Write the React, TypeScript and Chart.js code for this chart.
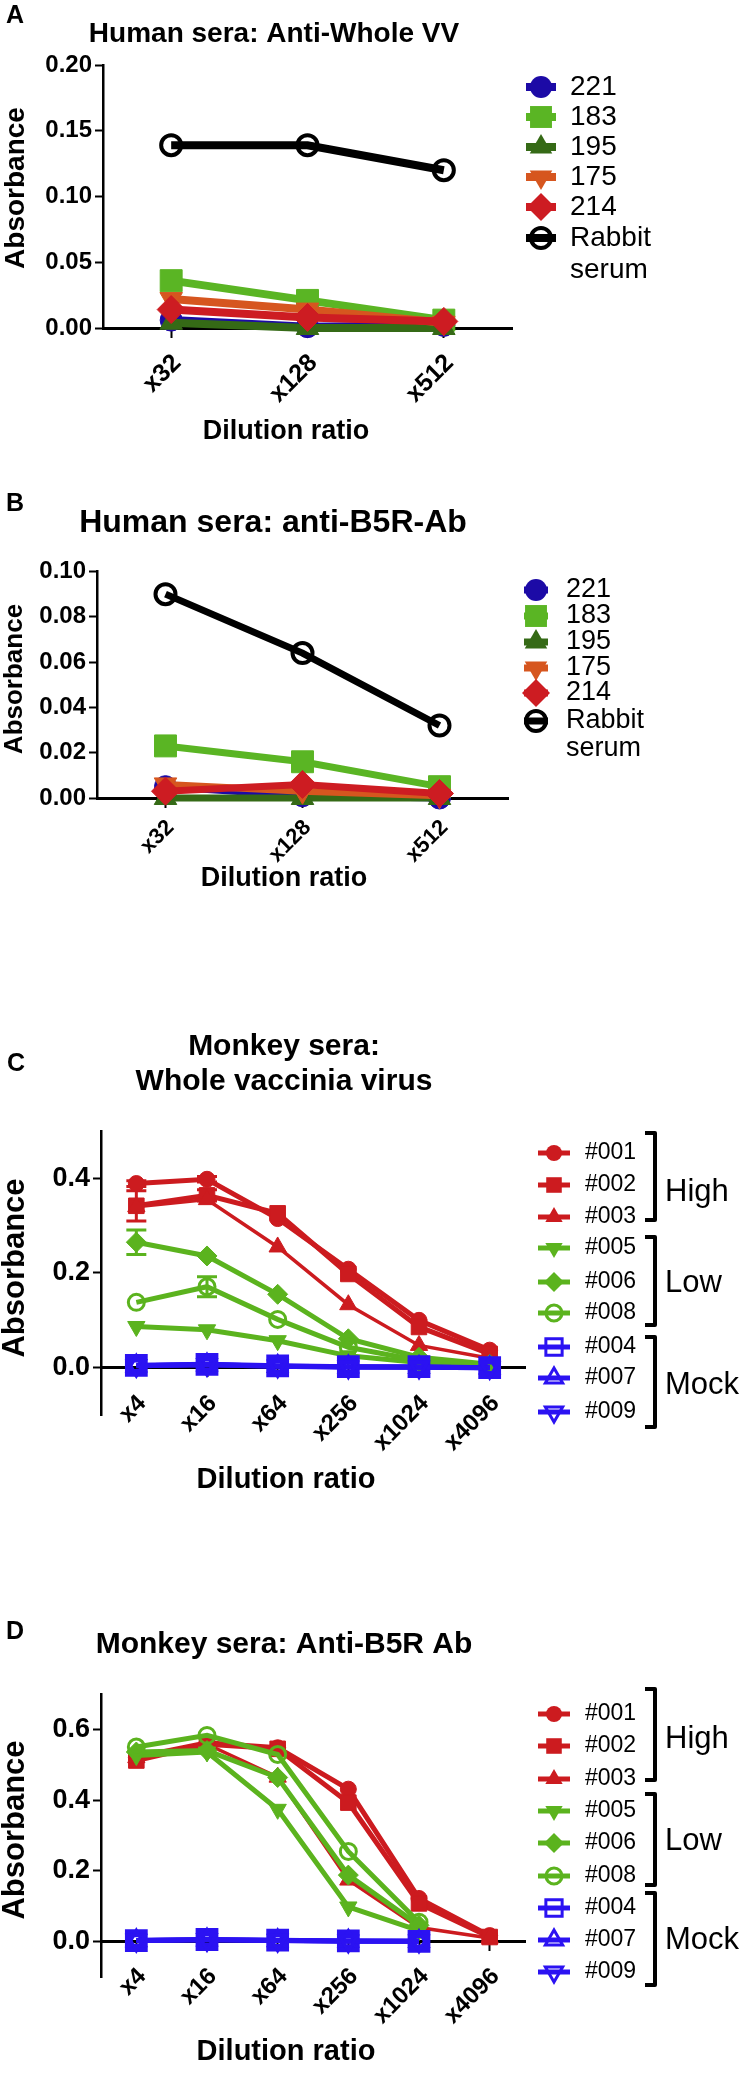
import React, { useEffect, useRef } from 'react';
import { Chart, registerables } from 'chart.js';
Chart.register(...registerables);

const FONT = "'Liberation Sans', Arial, Helvetica, sans-serif";

// ---------- DATA ----------
const humanCategories = ['x32', 'x128', 'x512'];
const humanSeriesNames = ['221', '183', '195', '175', '214', 'Rabbit serum'];

// Panel A: Human sera, anti-whole VV
const a221 = [0.006, 0.001, 0.002];
const a183 = [0.036, 0.021, 0.006];
const a195 = [0.004, 0.0, 0.0];
const a175 = [0.022, 0.014, 0.004];
const a214 = [0.014, 0.008, 0.005];
const aRabbit = [0.139, 0.139, 0.12];

// Panel B: Human sera, anti-B5R-Ab
const b221 = [0.005, 0.001, 0.0];
const b183 = [0.023, 0.016, 0.005];
const b195 = [0.0, 0.0, 0.0];
const b175 = [0.006, 0.003, 0.001];
const b214 = [0.003, 0.006, 0.002];
const bRabbit = [0.09, 0.064, 0.032];

const monkeyCategories = ['x4', 'x16', 'x64', 'x256', 'x1024', 'x4096'];
const monkeySeriesNames = ['#001', '#002', '#003', '#005', '#006', '#008', '#004', '#007', '#009'];

// Panel C: Monkey sera, whole vaccinia virus
const c001 = [0.389, 0.398, 0.315, 0.208, 0.1, 0.037];
const c002 = [0.342, 0.364, 0.326, 0.198, 0.086, 0.029];
const c003 = [0.34, 0.355, 0.255, 0.133, 0.047, 0.02];
const c005 = [0.087, 0.08, 0.057, 0.025, 0.011, 0.003];
const c006 = [0.265, 0.236, 0.155, 0.061, 0.022, 0.007];
const c008 = [0.138, 0.171, 0.102, 0.043, 0.015, 0.004];
const c004 = [0.005, 0.007, 0.004, 0.002, 0.002, 0.0];
const c007 = [0.004, 0.006, 0.003, 0.002, 0.001, 0.0];
const c009 = [0.004, 0.006, 0.003, 0.001, 0.001, 0.0];
const c001Err = [0.006, 0.006, 0, 0, 0, 0];
const c002Err = [0.032, 0.012, 0, 0, 0, 0];
const c006Err = [0.026, 0, 0, 0, 0, 0];
const c008Err = [0, 0.021, 0, 0, 0, 0];

// Panel D: Monkey sera, anti-B5R Ab
const d001 = [0.521, 0.562, 0.548, 0.431, 0.122, 0.017];
const d002 = [0.512, 0.558, 0.545, 0.393, 0.108, 0.013];
const d003 = [0.52, 0.558, 0.465, 0.174, 0.04, 0.01];
const d005 = [0.526, 0.536, 0.374, 0.098, 0.031, null];
const d006 = [0.536, 0.54, 0.464, 0.188, 0.046, null];
const d008 = [0.55, 0.583, 0.529, 0.255, 0.055, null];
const d004 = [0.003, 0.006, 0.004, 0.002, 0.001, null];
const d007 = [0.003, 0.005, 0.003, 0.002, 0.001, null];
const d009 = [0.003, 0.005, 0.003, 0.001, 0.001, null];

const groupNames = ['High', 'Low', 'Mock'];

// ---------- STYLES ----------
type St = { color: string; shape: string; r: number; rot?: number; open?: boolean; bw?: number; lw?: number };
const HUMAN_STYLE: St[] = [
  { color: '#1c0aa6', shape: 'circle', r: 11 },
  { color: '#5ab524', shape: 'rect', r: 15.5 },
  { color: '#356a16', shape: 'triangle', r: 13 },
  { color: '#d6561f', shape: 'triangle', rot: 180, r: 13 },
  { color: '#cd1c22', shape: 'rectRot', r: 14 },
  { color: '#000000', shape: 'circle', r: 10, open: true, bw: 4 },
];
const RED = '#cc1b1f';
const GREEN = '#5bb31e';
const BLUE = '#2b12f2';
const MONKEY_STYLE: St[] = [
  { color: RED, shape: 'circle', r: 8 },
  { color: RED, shape: 'rect', r: 11 },
  { color: RED, shape: 'triangle', r: 10, lw: 3.5 },
  { color: GREEN, shape: 'triangle', rot: 180, r: 10 },
  { color: GREEN, shape: 'rectRot', r: 10 },
  { color: GREEN, shape: 'circle', r: 8, open: true, bw: 3 },
  { color: BLUE, shape: 'rect', r: 11.5, open: true, bw: 6.5 },
  { color: BLUE, shape: 'triangle', r: 10, open: true, bw: 3.5 },
  { color: BLUE, shape: 'triangle', rot: 180, r: 10, open: true, bw: 3.5 },
];

function makeDatasets(names: string[], values: (number | null)[][], styles: St[], lw: number, errors?: (number[] | null)[]) {
  const n = names.length;
  return names.map((name, i) => {
    const s = styles[i];
    return {
      label: name,
      data: values[i],
      borderColor: s.color,
      backgroundColor: s.color,
      borderWidth: s.lw ?? lw,
      pointStyle: s.shape,
      pointRotation: s.rot ?? 0,
      pointRadius: s.r,
      pointHoverRadius: s.r,
      pointBackgroundColor: s.open ? 'rgba(0,0,0,0)' : s.color,
      pointBorderColor: s.color,
      pointBorderWidth: s.open ? s.bw : 1,
      tension: 0,
      clip: false as any,
      order: n - i,
      errors: errors ? errors[i] : null,
      _st: s,
    };
  });
}

function drawMarker(ctx: CanvasRenderingContext2D, s: St, x: number, y: number, legendBw?: number) {
  const r = s.r;
  ctx.beginPath();
  if (s.shape === 'circle') {
    ctx.arc(x, y, r, 0, Math.PI * 2);
  } else if (s.shape === 'rect') {
    const h = r * Math.SQRT1_2;
    ctx.rect(x - h, y - h, 2 * h, 2 * h);
  } else if (s.shape === 'rectRot') {
    ctx.moveTo(x - r, y);
    ctx.lineTo(x, y - r);
    ctx.lineTo(x + r, y);
    ctx.lineTo(x, y + r);
    ctx.closePath();
  } else if (s.shape === 'triangle') {
    let a = ((s.rot ?? 0) * Math.PI) / 180;
    ctx.moveTo(x + Math.sin(a) * r, y - Math.cos(a) * r);
    a += (2 * Math.PI) / 3;
    ctx.lineTo(x + Math.sin(a) * r, y - Math.cos(a) * r);
    a += (2 * Math.PI) / 3;
    ctx.lineTo(x + Math.sin(a) * r, y - Math.cos(a) * r);
    ctx.closePath();
  }
  if (s.open) {
    ctx.lineWidth = legendBw ?? s.bw ?? 2;
    ctx.strokeStyle = s.color;
    ctx.stroke();
  } else {
    ctx.fillStyle = s.color;
    ctx.fill();
  }
}

type Cfg = {
  top: number;
  height: number;
  area: { left: number; right: number; top: number; bottom: number };
  yMin: number;
  yMax: number;
  yTicks: number[];
  yDec: number;
  yTickSize: number;
  xTick: { size: number; dx: number; dy: number };
  categories: string[];
  datasets: any[];
  letter: { text: string; x: number; y: number };
  titles: { text: string; x: number; y: number; size: number }[];
  yTitle: { text: string; x: number; y: number; size: number };
  xTitle: { text: string; x: number; y: number; size: number };
  legend: { markerX: number; textX: number; rows: number[]; size: number; stub: number; lineWidth: number; lines: string[][]; lineGap: number; openBw?: number };
  brackets?: { x: number; hook: number; labelX: number; size: number; items: { y1: number; y2: number; label: string; ly: number }[] };
};

const errorBarPlugin = {
  id: 'errorBars',
  beforeDatasetsDraw(chart: any) {
    const ctx = chart.ctx;
    const xs = chart.scales.x;
    const ys = chart.scales.y;
    chart.data.datasets.forEach((ds: any) => {
      if (!ds.errors) return;
      ds.data.forEach((v: number | null, i: number) => {
        const e = ds.errors[i];
        if (v == null || !e) return;
        const x = xs.getPixelForValue(i);
        const y1 = ys.getPixelForValue(v + e);
        const y2 = ys.getPixelForValue(v - e);
        ctx.save();
        ctx.strokeStyle = ds.borderColor;
        ctx.lineWidth = 3;
        ctx.beginPath();
        ctx.moveTo(x, y1);
        ctx.lineTo(x, y2);
        ctx.moveTo(x - 10, y1);
        ctx.lineTo(x + 10, y1);
        ctx.moveTo(x - 10, y2);
        ctx.lineTo(x + 10, y2);
        ctx.stroke();
        ctx.restore();
      });
    });
  },
};

function decorPlugin(cfg: Cfg) {
  return {
    id: 'decor',
    afterDraw(chart: any) {
      const ctx: CanvasRenderingContext2D = chart.ctx;
      const xs = chart.scales.x;
      const ys = chart.scales.y;
      ctx.save();
      ctx.fillStyle = '#000';
      ctx.textAlign = 'center';
      ctx.textBaseline = 'middle';
      ctx.font = `bold 25px ${FONT}`;
      ctx.fillText(cfg.letter.text, cfg.letter.x, cfg.letter.y);
      cfg.titles.forEach((t) => {
        ctx.font = `bold ${t.size}px ${FONT}`;
        ctx.fillText(t.text, t.x, t.y);
      });
      ctx.font = `bold ${cfg.xTitle.size}px ${FONT}`;
      ctx.fillText(cfg.xTitle.text, cfg.xTitle.x, cfg.xTitle.y);
      ctx.save();
      ctx.translate(cfg.yTitle.x, cfg.yTitle.y);
      ctx.rotate(-Math.PI / 2);
      ctx.font = `bold ${cfg.yTitle.size}px ${FONT}`;
      ctx.fillText(cfg.yTitle.text, 0, 0);
      ctx.restore();

      // rotated category labels, anchored at each category's tick on the zero line
      const zeroY = ys.getPixelForValue(0);
      ctx.font = `bold ${cfg.xTick.size}px ${FONT}`;
      ctx.textAlign = 'right';
      ctx.textBaseline = 'middle';
      cfg.categories.forEach((lab, i) => {
        const px = xs.getPixelForValue(i);
        ctx.save();
        ctx.translate(px + cfg.xTick.dx, zeroY + cfg.xTick.dy);
        ctx.rotate(-Math.PI / 4);
        ctx.fillText(lab, 0, 0);
        ctx.restore();
      });

      // legend
      const L = cfg.legend;
      chart.data.datasets.forEach((ds: any, i: number) => {
        const y = L.rows[i];
        const s: St = ds._st;
        ctx.strokeStyle = s.color;
        ctx.lineWidth = L.lineWidth;
        ctx.beginPath();
        ctx.moveTo(L.markerX - L.stub, y);
        ctx.lineTo(L.markerX + L.stub, y);
        ctx.stroke();
        drawMarker(ctx, s, L.markerX, y, L.openBw);
        ctx.fillStyle = '#000';
        ctx.textAlign = 'left';
        ctx.textBaseline = 'middle';
        ctx.font = `${L.size}px ${FONT}`;
        L.lines[i].forEach((line, k) => ctx.fillText(line, L.textX, y + k * L.lineGap));
      });

      if (cfg.brackets) {
        const B = cfg.brackets;
        ctx.strokeStyle = '#000';
        ctx.lineWidth = 4;
        ctx.lineJoin = 'round';
        B.items.forEach((it) => {
          ctx.beginPath();
          ctx.moveTo(B.x - B.hook, it.y1);
          ctx.lineTo(B.x, it.y1);
          ctx.lineTo(B.x, it.y2);
          ctx.lineTo(B.x - B.hook, it.y2);
          ctx.stroke();
          ctx.fillStyle = '#000';
          ctx.textAlign = 'left';
          ctx.font = `${B.size}px ${FONT}`;
          ctx.fillText(it.label, B.labelX, it.ly);
        });
      }
      ctx.restore();
    },
  };
}

function PanelChart({ cfg }: { cfg: Cfg }) {
  const ref = useRef<HTMLCanvasElement>(null);
  useEffect(() => {
    const W = 742;
    const chart = new Chart(ref.current as HTMLCanvasElement, {
      type: 'line',
      data: { labels: cfg.categories, datasets: cfg.datasets },
      options: {
        animation: false,
        responsive: false,
        devicePixelRatio: 1,
        layout: {
          padding: {
            left: 0,
            top: cfg.area.top,
            right: W - cfg.area.right,
            bottom: cfg.height - cfg.area.bottom,
          },
        },
        plugins: { legend: { display: false }, tooltip: { enabled: false }, title: { display: false } },
        scales: {
          x: {
            type: 'category',
            offset: true,
            position: { y: 0 } as any,
            grid: { display: true, drawOnChartArea: false, drawTicks: true, tickLength: 8, tickWidth: 2, tickColor: '#000', offset: false },
            border: { display: true, color: '#000', width: 3 },
            ticks: { display: false, autoSkip: false },
          },
          y: {
            type: 'linear',
            position: 'left',
            min: cfg.yMin,
            max: cfg.yMax,
            afterBuildTicks: (s: any) => {
              s.ticks = cfg.yTicks.map((v) => ({ value: v }));
            },
            afterFit: (s: any) => {
              s.width = cfg.area.left;
            },
            grid: { display: true, drawOnChartArea: false, drawTicks: true, tickLength: 8, tickWidth: 2, tickColor: '#000' },
            border: { display: true, color: '#000', width: 2.5 },
            ticks: {
              color: '#000',
              padding: 3,
              font: { family: FONT, size: cfg.yTickSize, weight: 'bold' },
              callback: (v: any) => Number(v).toFixed(cfg.yDec),
            },
          },
        },
      },
      plugins: [errorBarPlugin as any, decorPlugin(cfg) as any],
    });
    return () => chart.destroy();
  }, []);
  return (
    <div style={{ position: 'absolute', left: 0, top: cfg.top, width: 742, height: cfg.height }}>
      <canvas ref={ref} width={742} height={cfg.height} style={{ width: 742, height: cfg.height, display: 'block' }} />
    </div>
  );
}

const humanLegendLines = humanSeriesNames.map((n) => n.split(' '));
const monkeyLegendLines = monkeySeriesNames.map((n) => [n]);

const panelA: Cfg = {
  top: 0,
  height: 470,
  area: { left: 103, right: 512, top: 65, bottom: 328 },
  yMin: 0,
  yMax: 0.2,
  yTicks: [0, 0.05, 0.1, 0.15, 0.2],
  yDec: 2,
  yTickSize: 24,
  xTick: { size: 25, dx: 6, dy: 31 },
  categories: humanCategories,
  datasets: makeDatasets(humanSeriesNames, [a221, a183, a195, a175, a214, aRabbit], HUMAN_STYLE, 8),
  letter: { text: 'A', x: 15, y: 16 },
  titles: [{ text: 'Human sera: Anti-Whole VV', x: 274, y: 34, size: 28 }],
  yTitle: { text: 'Absorbance', x: 16, y: 188, size: 28 },
  xTitle: { text: 'Dilution ratio', x: 286, y: 432, size: 27 },
  legend: { markerX: 541, textX: 570, rows: [87, 117, 147, 177, 207, 238], size: 28, stub: 15, lineWidth: 8, lines: humanLegendLines, lineGap: 32 },
};

const panelB: Cfg = {
  top: 480,
  height: 450,
  area: { left: 97, right: 508, top: 91.5, bottom: 318 },
  yMin: 0,
  yMax: 0.1,
  yTicks: [0, 0.02, 0.04, 0.06, 0.08, 0.1],
  yDec: 2,
  yTickSize: 24,
  xTick: { size: 22, dx: 5, dy: 26 },
  categories: humanCategories,
  datasets: makeDatasets(humanSeriesNames, [b221, b183, b195, b175, b214, bRabbit], HUMAN_STYLE, 7),
  letter: { text: 'B', x: 15, y: 24 },
  titles: [{ text: 'Human sera: anti-B5R-Ab', x: 273, y: 43, size: 32 }],
  yTitle: { text: 'Absorbance', x: 15, y: 199, size: 26 },
  xTitle: { text: 'Dilution ratio', x: 284, y: 399, size: 27 },
  legend: { markerX: 536, textX: 566, rows: [110, 136, 162, 188, 213, 241], size: 27, stub: 12, lineWidth: 7, lines: humanLegendLines, lineGap: 28 },
};

const monkeyBrackets = (items: { y1: number; y2: number; ly: number }[]) => ({
  x: 655,
  hook: 10,
  labelX: 665,
  size: 31,
  items: items.map((it, i) => ({ ...it, label: groupNames[i] })),
});

const panelC: Cfg = {
  top: 1030,
  height: 500,
  area: { left: 101, right: 525, top: 101, bottom: 385 },
  yMin: -0.1,
  yMax: 0.5,
  yTicks: [0, 0.2, 0.4],
  yDec: 1,
  yTickSize: 27,
  xTick: { size: 24, dx: 6, dy: 32 },
  categories: monkeyCategories,
  datasets: makeDatasets(
    monkeySeriesNames,
    [c001, c002, c003, c005, c006, c008, c004, c007, c009],
    MONKEY_STYLE,
    5,
    [c001Err, c002Err, null, null, c006Err, c008Err, null, null, null]
  ),
  letter: { text: 'C', x: 16, y: 34 },
  titles: [
    { text: 'Monkey sera:', x: 284, y: 17, size: 30 },
    { text: 'Whole vaccinia virus', x: 284, y: 52, size: 30 },
  ],
  yTitle: { text: 'Absorbance', x: 15, y: 238, size: 31 },
  xTitle: { text: 'Dilution ratio', x: 286, y: 450, size: 29 },
  legend: { markerX: 554, textX: 585, rows: [123, 155, 187, 218, 252, 283, 317, 348, 382], size: 23, stub: 16, lineWidth: 5, lines: monkeyLegendLines, lineGap: 0, openBw: 3 },
  brackets: monkeyBrackets([
    { y1: 103, y2: 190, ly: 162 },
    { y1: 207, y2: 295, ly: 253 },
    { y1: 307, y2: 397, ly: 355 },
  ]),
};

const panelD: Cfg = {
  top: 1590,
  height: 485,
  area: { left: 101, right: 525, top: 104, bottom: 387 },
  yMin: -0.1,
  yMax: 0.7,
  yTicks: [0, 0.2, 0.4, 0.6],
  yDec: 1,
  yTickSize: 27,
  xTick: { size: 24, dx: 6, dy: 31 },
  categories: monkeyCategories,
  datasets: makeDatasets(monkeySeriesNames, [d001, d002, d003, d005, d006, d008, d004, d007, d009], MONKEY_STYLE, 5),
  letter: { text: 'D', x: 15, y: 42 },
  titles: [{ text: 'Monkey sera: Anti-B5R Ab', x: 284, y: 55, size: 30 }],
  yTitle: { text: 'Absorbance', x: 15, y: 240, size: 31 },
  xTitle: { text: 'Dilution ratio', x: 286, y: 462, size: 29 },
  legend: { markerX: 554, textX: 585, rows: [124, 156, 189, 221, 253, 286, 318, 350, 382], size: 23, stub: 16, lineWidth: 5, lines: monkeyLegendLines, lineGap: 0, openBw: 3 },
  brackets: monkeyBrackets([
    { y1: 99, y2: 190, ly: 149 },
    { y1: 204, y2: 295, ly: 251 },
    { y1: 303, y2: 395, ly: 350 },
  ]),
};

export default function App() {
  return (
    <div style={{ position: 'absolute', left: 0, top: 0, width: 742, height: 2075, background: '#fff' }}>
      <PanelChart cfg={panelA} />
      <PanelChart cfg={panelB} />
      <PanelChart cfg={panelC} />
      <PanelChart cfg={panelD} />
    </div>
  );
}
